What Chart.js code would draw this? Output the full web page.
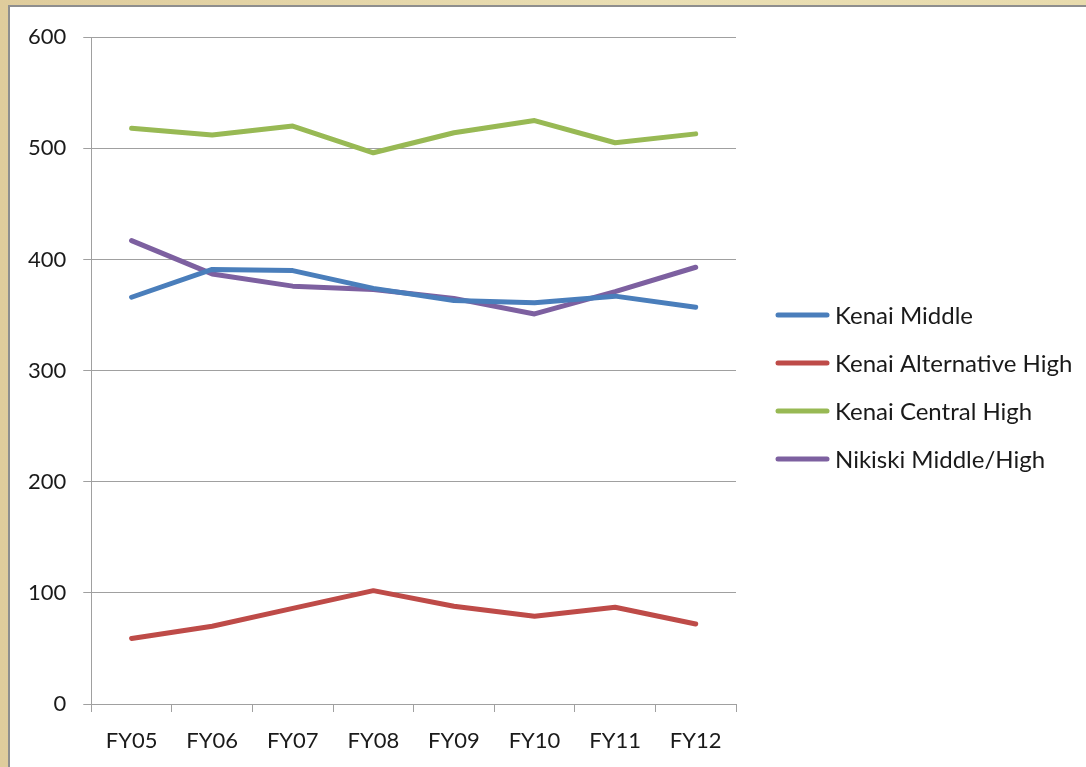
<!DOCTYPE html>
<html>
<head>
<meta charset="utf-8">
<script src="https://cdn.jsdelivr.net/npm/chart.js@4/dist/chart.umd.min.js"></script>
<style>
  html, body { margin: 0; padding: 0; }
  body {
    width: 1086px; height: 767px; overflow: hidden;
    background: linear-gradient(90deg, #dfcc9c 0%, #eadfb4 60%, #e8dbad 100%);
  }
  #frame {
    position: absolute; left: 8px; top: 5px; right: 0; bottom: 0;
    background: #fff;
    border-left: 2px solid #8e8e8e;
    border-top: 2px solid #8e8e8e;
  }
  #wrap { position: absolute; left: 0; top: 0; width: 1076px; height: 760px; }
</style>
</head>
<body>
<div id="frame"><div id="wrap"><canvas id="chart"></canvas></div></div>
<script>
// --- DATA ---
const years = ['FY05', 'FY06', 'FY07', 'FY08', 'FY09', 'FY10', 'FY11', 'FY12'];
const kenaiMiddle = [366, 391, 390, 374, 363, 361, 367, 357];
const kenaiAltHigh = [59, 70, 86, 102, 88, 79, 87, 72];
const kenaiCentral = [518, 512, 520, 496, 514, 525, 505, 513];
const nikiski = [417, 387, 376, 373, 365, 351, 371, 393];

const FONT = 'Lato, "Open Sans", sans-serif';

function series(label, data, color) {
    return {
        label: label,
        data: data,
        borderColor: color,
        backgroundColor: color,
        borderWidth: 5,
        borderCapStyle: 'round',
        borderJoinStyle: 'round',
        pointRadius: 0,
        tension: 0
    };
}

// Legend drawn beside the plot (built-in right legend is capped at a quarter of the width)
const sideLegend = {
    id: 'sideLegend',
    afterDraw(chart) {
        const c = chart.ctx;
        const sets = chart.data.datasets;
        const x0 = chart.chartArea.right + 40;
        const step = 48;
        const yStart = chart.height / 2 - step * (sets.length - 1) / 2;
        c.save();
        c.font = '24px ' + FONT;
        c.textBaseline = 'middle';
        c.fillStyle = '#1a1a1a';
        sets.forEach((ds, i) => {
            const y = yStart + i * step;
            c.beginPath();
            c.strokeStyle = ds.borderColor;
            c.lineWidth = 5;
            c.lineCap = 'round';
            c.moveTo(x0 + 2, y);
            c.lineTo(x0 + 51, y);
            c.stroke();
            c.fillText(ds.label, x0 + 59, y + 1);
        });
        c.restore();
    }
};

const ctx = document.getElementById('chart').getContext('2d');
new Chart(ctx, {
    type: 'line',
    data: {
        labels: years,
        datasets: [
            series('Kenai Middle', kenaiMiddle, '#4a7ebb'),
            series('Kenai Alternative High', kenaiAltHigh, '#be4b48'),
            series('Kenai Central High', kenaiCentral, '#98b954'),
            series('Nikiski Middle/High', nikiski, '#7d60a0')
        ]
    },
    plugins: [sideLegend],
    options: {
        responsive: true,
        maintainAspectRatio: false,
        animation: false,
        layout: { padding: { left: 1, top: 20, right: 350, bottom: -3 } },
        plugins: {
            tooltip: { enabled: false },
            legend: { display: false }
        },
        scales: {
            x: {
                offset: true,
                grid: {
                    offset: true,
                    drawOnChartArea: false,
                    drawTicks: true,
                    tickLength: 8,
                    color: '#a0a0a0'
                },
                border: { color: '#a0a0a0', width: 1 },
                ticks: { color: '#1a1a1a', font: { family: FONT, size: 22, lineHeight: 1 }, padding: 18 }
            },
            y: {
                min: 0,
                max: 600,
                grid: { color: '#a0a0a0', tickLength: 8 },
                border: { color: '#a0a0a0', width: 1 },
                ticks: { stepSize: 100, color: '#1a1a1a', font: { family: FONT, size: 22 }, padding: 17 }
            }
        }
    }
});
</script>
</body>
</html>
